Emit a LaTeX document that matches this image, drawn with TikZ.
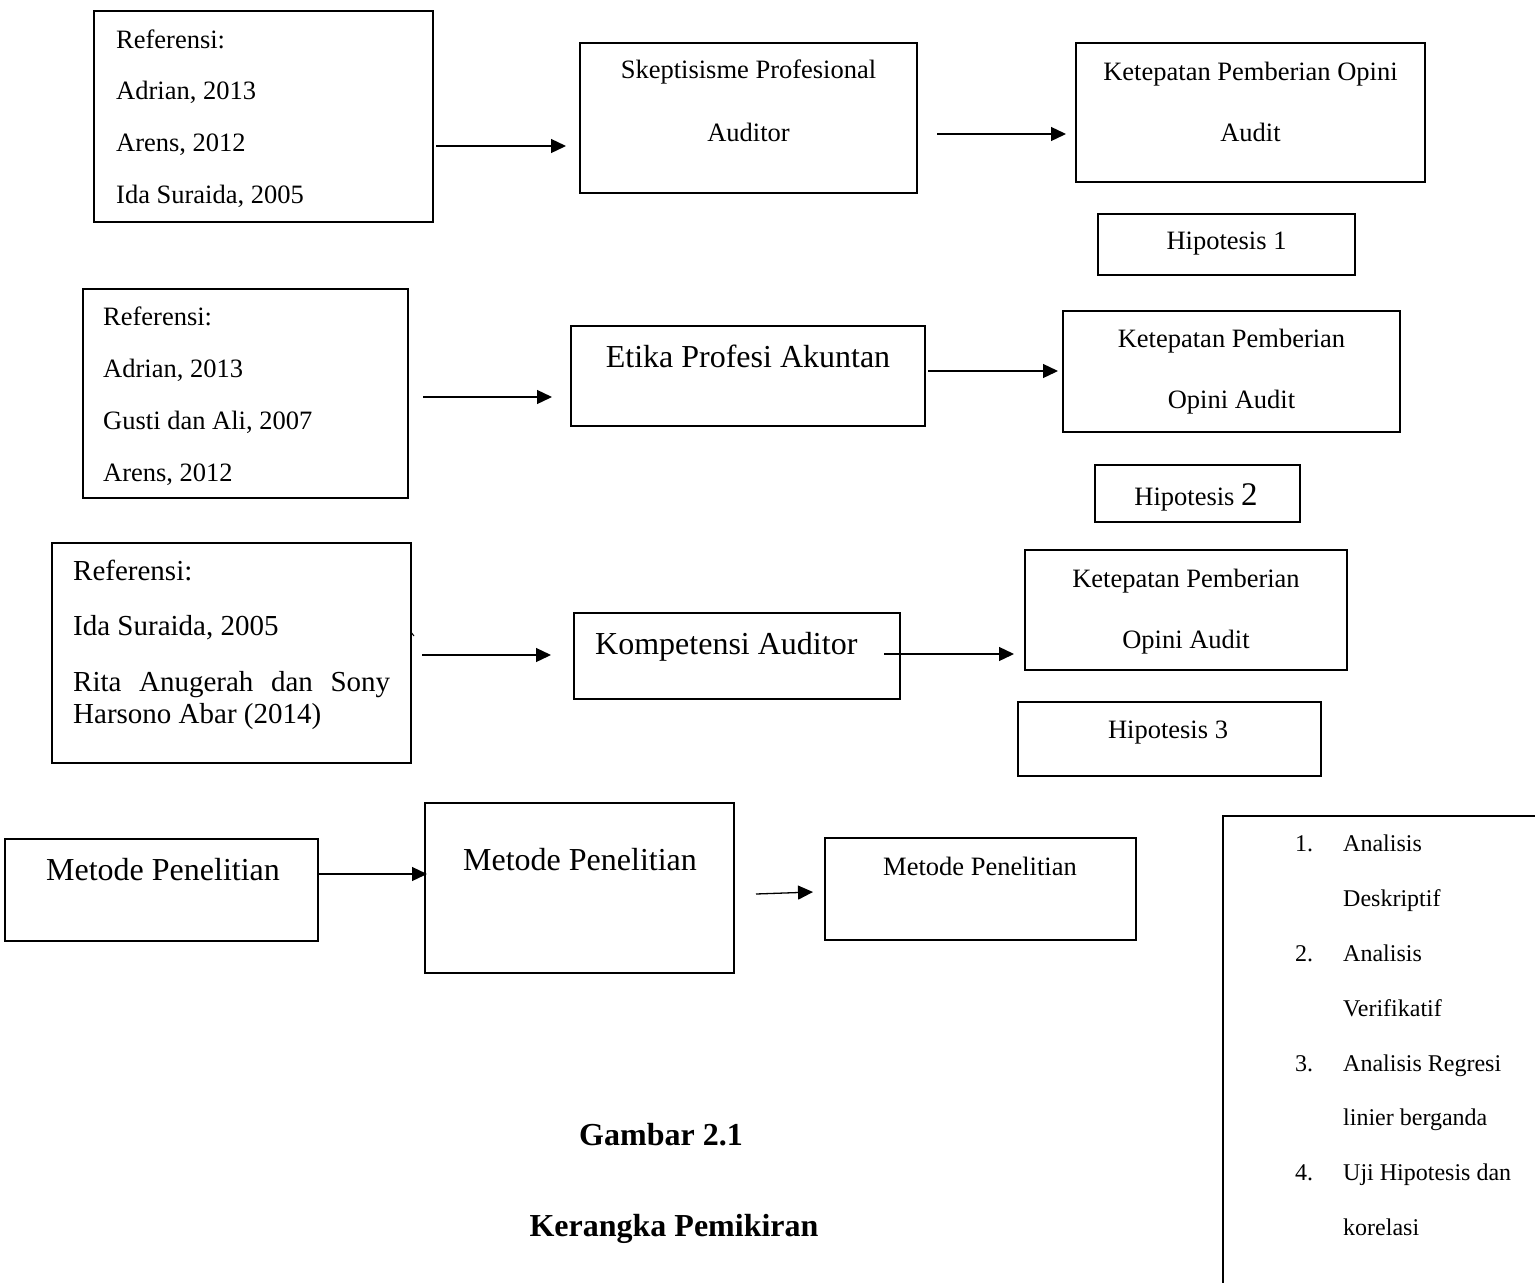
\documentclass[tikz,border=0pt]{standalone}
\usepackage{fontspec}
\setmainfont{Liberation Serif}
\usetikzlibrary{arrows.meta}
\begin{document}
\begin{tikzpicture}[x=1pt,y=-1pt,
  box/.style={draw, line width=2.2pt, rectangle, inner sep=0pt, outer sep=0pt},
  conn/.style={line width=1.3pt, -{Triangle[length=15pt,width=14pt]}},
  txt/.style={inner sep=0pt, font=\fontsize{26.5}{30}\selectfont},
  mid/.style={inner sep=0pt, font=\fontsize{29}{33}\selectfont},
  big/.style={inner sep=0pt, font=\fontsize{32}{36}\selectfont},
  lst/.style={inner sep=0pt, font=\fontsize{24}{28}\selectfont},
  captxt/.style={inner sep=0pt, font=\fontsize{32}{36}\selectfont\bfseries}]
\useasboundingbox (0,0) rectangle (1535,1283);
\fill[white] (0,0) rectangle (1535,1283);

% ---------- row 1 ----------
\node[box, minimum width=339pt, minimum height=211pt] (R1) at (263.5,116.5) {};
\node[txt, anchor=base west] (r1a) at (116,48) {Referensi:};
\node[txt, anchor=base west] (r1b) at (116,99) {Adrian, 2013};
\node[txt, anchor=base west] (r1c) at (116,151) {Arens, 2012};
\node[txt, anchor=base west] (r1d) at (116,203) {Ida Suraida, 2005};

\node[box, minimum width=337pt, minimum height=150pt] (S) at (748.5,118) {};
\node[txt, anchor=base] (s1) at (748.5,78) {Skeptisisme Profesional};
\node[txt, anchor=base] (s2) at (748.5,141) {Auditor};

\node[box, minimum width=349pt, minimum height=139pt] (K1) at (1250.5,112.5) {};
\node[txt, anchor=base] (k1a) at (1250.5,80) {Ketepatan Pemberian Opini};
\node[txt, anchor=base] (k1b) at (1250.5,141) {Audit};

\node[box, minimum width=257pt, minimum height=61pt] (H1) at (1226.5,244.5) {};
\node[txt, anchor=base] (h1) at (1226.5,249) {Hipotesis 1};

\coordinate (a1s) at (436,146); \coordinate (a1e) at (566,146);
\coordinate (a2s) at (937,134); \coordinate (a2e) at (1066,134);
\draw[conn] (a1s) -- (a1e);
\draw[conn] (a2s) -- (a2e);

% ---------- row 2 ----------
\node[box, minimum width=325pt, minimum height=209pt] (R2) at (245.5,393.5) {};
\node[txt, anchor=base west] (r2a) at (103,325) {Referensi:};
\node[txt, anchor=base west] (r2b) at (103,377) {Adrian, 2013};
\node[txt, anchor=base west] (r2c) at (103,429) {Gusti dan Ali, 2007};
\node[txt, anchor=base west] (r2d) at (103,481) {Arens, 2012};

\node[box, minimum width=354pt, minimum height=100pt] (E) at (748,376) {};
\node[big, anchor=base] (e1) at (748,367) {Etika Profesi Akuntan};

\node[box, minimum width=337pt, minimum height=121pt] (K2) at (1231.5,371.5) {};
\node[txt, anchor=base] (k2a) at (1231.5,347) {Ketepatan Pemberian};
\node[txt, anchor=base] (k2b) at (1231.5,408) {Opini Audit};

\node[box, minimum width=205pt, minimum height=57pt] (H2) at (1197.5,493.5) {};
\node[txt, anchor=base] (h2) at (1196,505) {Hipotesis {\fontsize{33}{36}\selectfont 2}};

\coordinate (a3s) at (423,397); \coordinate (a3e) at (552,397);
\coordinate (a4s) at (928,371); \coordinate (a4e) at (1058,371);
\draw[conn] (a3s) -- (a3e);
\draw[conn] (a4s) -- (a4e);

% ---------- row 3 ----------
\node[box, minimum width=359pt, minimum height=220pt] (R3) at (231.5,653) {};
\node[mid, anchor=base west] (r3a) at (73,580) {Referensi:};
\node[mid, anchor=base west] (r3b) at (73,635) {Ida Suraida, 2005};
\node[mid, anchor=base west] (r3c) at (73,691) {\hbox to 317pt{Rita\hfill Anugerah\hfill dan\hfill Sony}};
\node[mid, anchor=base west] (r3d) at (73,723) {Harsono Abar (2014)};
\coordinate (tk1) at (411,632); \coordinate (tk2) at (414,636);
\draw[line width=1pt] (tk1) -- (tk2);

\node[box, minimum width=326pt, minimum height=86pt] (KA) at (737,656) {};
\node[big, anchor=base west] (ka1) at (595,654) {Kompetensi Auditor};

\node[box, minimum width=322pt, minimum height=120pt] (K3) at (1186,610) {};
\node[txt, anchor=base] (k3a) at (1186,587) {Ketepatan Pemberian};
\node[txt, anchor=base] (k3b) at (1186,648) {Opini Audit};

\node[box, minimum width=303pt, minimum height=74pt] (H3) at (1169.5,739) {};
\node[txt, anchor=base] (h3) at (1168,738) {Hipotesis 3};

\coordinate (a5s) at (422,655); \coordinate (a5e) at (551,655);
\coordinate (a6s) at (884,654); \coordinate (a6e) at (1014,654);
\draw[conn] (a5s) -- (a5e);
\draw[conn] (a6s) -- (a6e);

% ---------- row 4 ----------
\node[box, minimum width=313pt, minimum height=102pt] (M1) at (161.5,890) {};
\node[big, anchor=base] (m1) at (163,880) {Metode Penelitian};

\node[box, minimum width=309pt, minimum height=170pt] (M2) at (579.5,888) {};
\node[big, anchor=base] (m2) at (580,870) {Metode Penelitian};

\node[box, minimum width=311pt, minimum height=102pt] (M3) at (980.5,889) {};
\node[txt, anchor=base] (m3) at (980,875) {Metode Penelitian};

\coordinate (a7s) at (318,874); \coordinate (a7e) at (427,874);
\coordinate (a8s) at (756,894); \coordinate (a8e) at (813,892);
\draw[conn] (a7s) -- (a7e);
\draw[conn] (a8s) -- (a8e);

% ---------- list box ----------
\coordinate (lb1) at (1536,816); \coordinate (lb2) at (1223,816); \coordinate (lb3) at (1223,1284);
\draw[line width=2.2pt] (lb1) -- (lb2) -- (lb3);
\node[lst, anchor=base west] (n1) at (1295,851) {1.};
\node[lst, anchor=base west] (l1) at (1343,851) {Analisis};
\node[lst, anchor=base west] (l1b) at (1343,906) {Deskriptif};
\node[lst, anchor=base west] (n2) at (1295,961) {2.};
\node[lst, anchor=base west] (l2) at (1343,961) {Analisis};
\node[lst, anchor=base west] (l2b) at (1343,1016) {Verifikatif};
\node[lst, anchor=base west] (n3) at (1295,1071) {3.};
\node[lst, anchor=base west] (l3) at (1343,1071) {Analisis Regresi};
\node[lst, anchor=base west] (l3b) at (1343,1125) {linier berganda};
\node[lst, anchor=base west] (n4) at (1295,1180) {4.};
\node[lst, anchor=base west] (l4) at (1343,1180) {Uji Hipotesis dan};
\node[lst, anchor=base west] (l4b) at (1343,1235) {korelasi};

% ---------- caption ----------
\node[captxt, anchor=base] (g1) at (661,1145) {Gambar 2.1};
\node[captxt, anchor=base] (g2) at (674,1236) {Kerangka Pemikiran};
\end{tikzpicture}
\end{document}
